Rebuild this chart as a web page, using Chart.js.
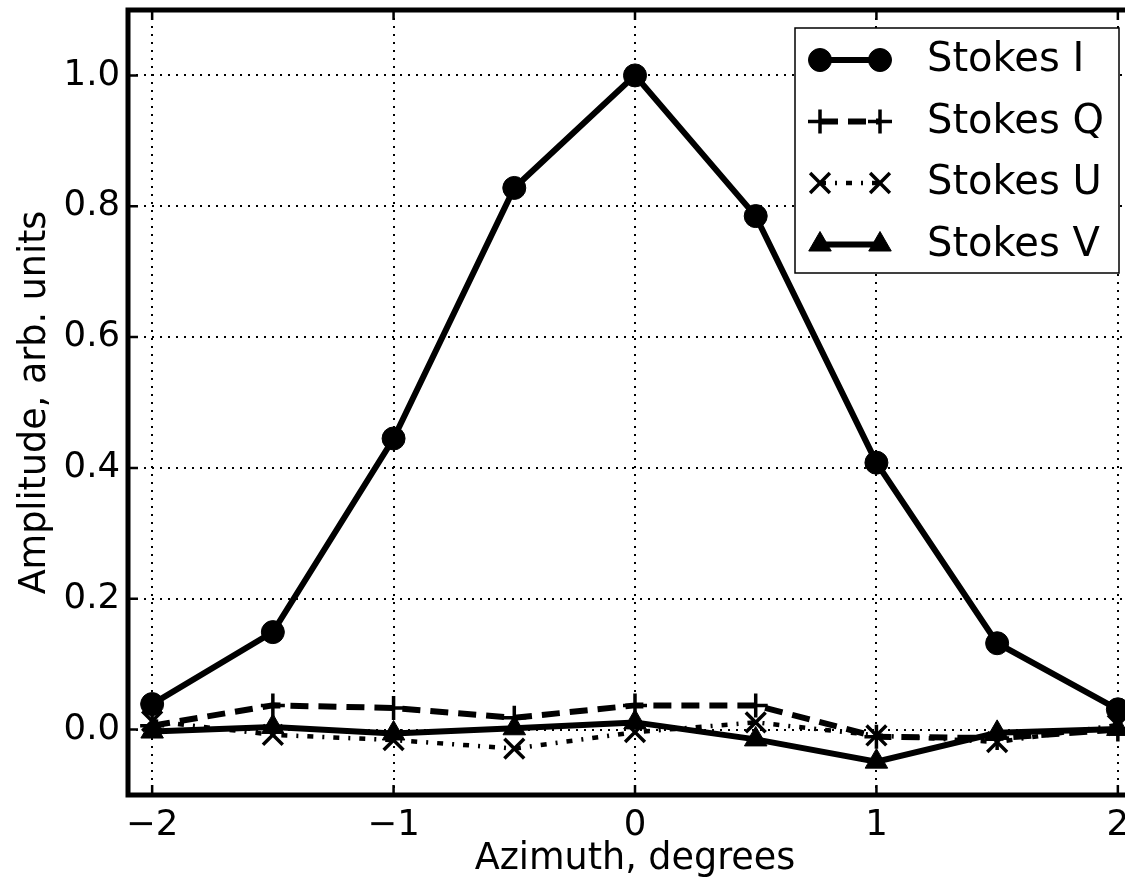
<html><head>
    <title>Stokes parameters vs azimuth</title>
    <meta charset="UTF-8">
    <script src="https://cdn.jsdelivr.net/npm/chart.js"></script>
    <style>
        body {
            margin: 0;
            overflow: hidden;
            background: #fff;
        }
        #wrap {
            width: 1160px;
            height: 881px;
        }
    </style>
</head>
<body>
    <div id="wrap"><canvas id="stokes" width="1160" height="881"></canvas></div>

    <script>
        // values
        const azimuth = [-2, -1.5, -1, -0.5, 0, 0.5, 1, 1.5, 2];
        const stokesI = [0.039, 0.149, 0.445, 0.828, 1.0, 0.785, 0.408, 0.132, 0.031];
        const stokesQ = [0.006, 0.037, 0.033, 0.018, 0.037, 0.037, -0.011, -0.013, 0.0];
        const stokesU = [0.013, -0.008, -0.016, -0.029, -0.004, 0.011, -0.009, -0.019, 0.007];
        const stokesV = [-0.003, 0.004, -0.006, 0.002, 0.011, -0.015, -0.049, -0.005, 0.001];
        const xTicks = [-2, -1, 0, 1, 2];
        const yTicks = [0.0, 0.2, 0.4, 0.6, 0.8, 1.0];

        const FONT = "'DejaVu Sans', sans-serif";
        const pts = arr => arr.map((v, i) => ({x: azimuth[i], y: v}));

        const datasets = [
            {label: 'Stokes I', data: pts(stokesI), borderWidth: 6, borderDash: [],
             pointStyle: 'circle', pointRadius: 11.5, pointBorderWidth: 1, order: 3},
            {label: 'Stokes Q', data: pts(stokesQ), borderWidth: 6, borderDash: [18, 10],
             pointStyle: 'cross', pointRadius: 12, pointBorderWidth: 3.5, order: 2},
            {label: 'Stokes U', data: pts(stokesU), borderWidth: 4.5, borderDash: [6, 9, 2, 9],
             pointStyle: 'crossRot', pointRadius: 14, pointBorderWidth: 3.5, order: 1},
            {label: 'Stokes V', data: pts(stokesV), borderWidth: 6, borderDash: [],
             pointStyle: 'triangle', pointRadius: 13, pointBorderWidth: 1, order: 0}
        ];
        datasets.forEach(d => {
            d.borderColor = '#000';
            d.backgroundColor = '#000';
            d.pointBackgroundColor = '#000';
            d.pointBorderColor = '#000';
            d.tension = 0;
            d.fill = false;
        });

        // frame, inward ticks and matplotlib-like legend
        const decor = {
            id: 'decor',
            afterDatasetsDraw(chart) {
                const c = chart.ctx, a = chart.chartArea;
                const xs = chart.scales.x, ys = chart.scales.y;
                c.save();
                c.strokeStyle = '#000';
                c.lineWidth = 2.5;
                xTicks.forEach(v => {
                    const px = xs.getPixelForValue(v);
                    c.beginPath();
                    c.moveTo(px, a.bottom); c.lineTo(px, a.bottom - 10);
                    c.moveTo(px, a.top); c.lineTo(px, a.top + 10);
                    c.stroke();
                });
                yTicks.forEach(v => {
                    const py = ys.getPixelForValue(v);
                    c.beginPath();
                    c.moveTo(a.left, py); c.lineTo(a.left + 10, py);
                    c.moveTo(a.right, py); c.lineTo(a.right - 10, py);
                    c.stroke();
                });
                c.lineWidth = 5;
                c.strokeRect(a.left, a.top, a.right - a.left, a.bottom - a.top);

                // legend
                const L = {w: 324, h: 245};
                L.x = a.right - 23 - L.w;
                L.y = a.top + 18;
                c.fillStyle = '#fff';
                c.fillRect(L.x, L.y, L.w, L.h);
                c.lineWidth = 1.5;
                c.strokeRect(L.x, L.y, L.w, L.h);
                chart.data.datasets.forEach((d, i) => {
                    const cy = L.y + 32 + i * 61.5;
                    const x0 = L.x + 25, x1 = L.x + 85;
                    c.save();
                    c.strokeStyle = '#000';
                    c.lineWidth = d.borderWidth;
                    c.setLineDash(d.borderDash);
                    c.beginPath();
                    c.moveTo(x0, cy); c.lineTo(x1, cy);
                    c.stroke();
                    c.restore();
                    c.fillStyle = '#000';
                    c.strokeStyle = '#000';
                    c.lineWidth = d.pointBorderWidth;
                    [x0, x1].forEach(px => Chart.helpers.drawPoint(c, {
                        pointStyle: d.pointStyle, radius: d.pointRadius, rotation: 0,
                        borderWidth: d.pointBorderWidth
                    }, px, cy));
                    c.font = '40px ' + FONT;
                    c.textAlign = 'left';
                    c.textBaseline = 'middle';
                    c.fillText(d.label, L.x + 132, cy + 1);
                });
                c.restore();
            }
        };

        new Chart(document.getElementById('stokes'), {
            type: 'line',
            data: {datasets},
            plugins: [decor],
            options: {
                responsive: false,
                animation: false,
                layout: {autoPadding: false, padding: {left: 0, top: 10, right: 18, bottom: 0}},
                plugins: {legend: {display: false}, tooltip: {enabled: false}},
                scales: {
                    x: {
                        type: 'linear',
                        min: -2.1,
                        max: 2.1,
                        afterBuildTicks: s => { s.ticks = xTicks.map(v => ({value: v})); },
                        afterFit: s => { s.height = 86; s.paddingLeft = 0; s.paddingRight = 0; },
                        grid: {color: '#000', lineWidth: 2, drawTicks: false},
                        border: {display: false, dash: [2, 6]},
                        ticks: {
                            color: '#000',
                            padding: 9,
                            font: {family: FONT, size: 35.5},
                            callback: v => String(v).replace('-', '\u2212')
                        },
                        title: {
                            display: true,
                            text: 'Azimuth, degrees',
                            color: '#000',
                            padding: {top: 0, bottom: 0},
                            font: {family: FONT, size: 36.5}
                        }
                    },
                    y: {
                        min: -0.1,
                        max: 1.1,
                        afterBuildTicks: s => { s.ticks = yTicks.map(v => ({value: v})); },
                        afterFit: s => { s.width = 128; s.paddingTop = 0; s.paddingBottom = 0; },
                        grid: {color: '#000', lineWidth: 2, drawTicks: false},
                        border: {display: false, dash: [2, 6]},
                        ticks: {
                            color: '#000',
                            padding: 8,
                            font: {family: FONT, size: 35.5},
                            callback: v => v.toFixed(1)
                        },
                        title: {
                            display: true,
                            text: 'Amplitude, arb. units',
                            color: '#000',
                            padding: {top: 14, bottom: 0},
                            font: {family: FONT, size: 36.5}
                        }
                    }
                }
            }
        });
    </script>
</body></html>
